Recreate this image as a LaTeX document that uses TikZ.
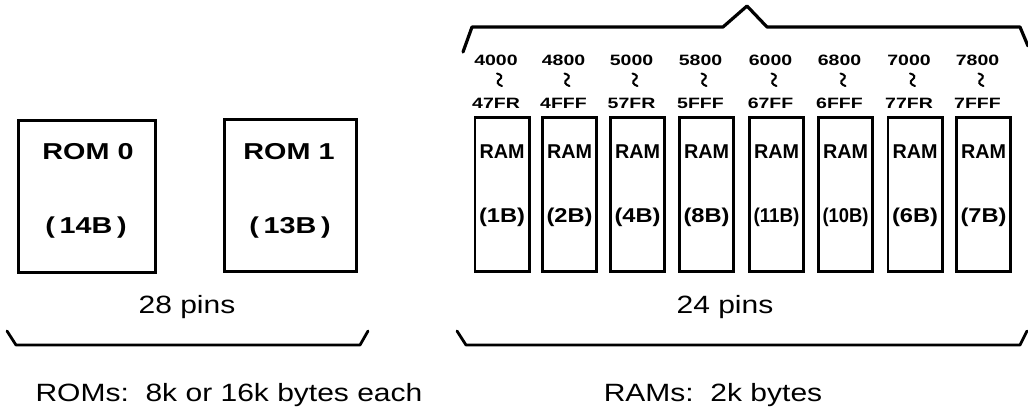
\documentclass[tikz,border=0pt]{standalone}
\usepackage{fontspec}
\setmainfont{Liberation Sans}
\newfontfamily\chipfont{Liberation Sans Bold}
% horizontal stretch of a piece of text
\newcommand{\hx}[2]{\scalebox{#1}[1]{#2}}
\begin{document}
\begin{tikzpicture}[x=1pt,y=-1pt,
  box/.style={draw, line width=2.8pt, inner sep=0pt},
  rombox/.style={box, minimum width=132.5pt, minimum height=152pt},
  rambox/.style={box, minimum width=54.2pt, minimum height=154.2pt},
  romtext/.style={inner sep=0pt, font=\fontsize{23}{23}\chipfont},
  ramtext/.style={inner sep=0pt, font=\fontsize{20}{20}\chipfont},
  addr/.style={inner sep=0pt, font=\fontsize{15}{15}\chipfont},
  squiggle/.style={line width=2pt, line cap=round},
  caption/.style={inner sep=0pt, anchor=base, font=\fontsize{25}{25}\selectfont},
  brace/.style={line width=2.8pt, line join=round, line cap=round}
]
\useasboundingbox (0,0) rectangle (1028,410);

% the two ROM sockets
\node[rombox, minimum width=137pt] (rom0) at (87,196.5) {};
\node[rombox] (rom1) at (290.5,195.5) {};
\node[romtext] (rom0name) at (88,152) {\hx{1.25}{ROM 0}};
\node[romtext] (rom0id) at (86,228) {\hx{1.25}{(\,14B\,)}};
\node[romtext] (rom1name) at (289,152) {\hx{1.25}{ROM 1}};
\node[romtext] (rom1id) at (290,228) {\hx{1.25}{(\,13B\,)}};

% the eight RAM sockets with their address ranges
\foreach \cx/\ta/\tb/\tc [count=\i] in {
    502/4000/47FR/1B, 569.5/4800/4FFF/2B, 637.5/5000/57FR/4B,
    706.5/5800/5FFF/8B, 776.5/6000/67FF/11B, 845.5/6800/6FFF/10B,
    915/7000/77FR/6B, 983.5/7800/7FFF/7B} {
  \node[rambox] (ram\i) at (\cx,194.5) {};
  \node[ramtext] (ramname\i) at (\cx,152) {\resizebox{45pt}{\height}{RAM}};
  \node[ramtext] (ramid\i) at (\cx,217) {\resizebox{46pt}{\height}{(\tc)}};
  \node[addr] (from\i) at ({\cx-6},60) {\hx{1.3}{\ta}};
  \node[addr] (upto\i) at ({\cx-6},103) {\hx{1.3}{\tb}};
  % the "through" mark between the two addresses
  \draw[squiggle] ({\cx-5},73.5) .. controls ({\cx},74.5) and ({\cx+0.5},77.5) .. ({\cx-2.5},79.5)
    .. controls ({\cx-5.5},81.5) and ({\cx-5},84.5) .. ({\cx},86);
}

% bracket over the RAM address map
\draw[brace, line width=3.2pt] (463,52) -- (472,27) -- (723,27) -- (747,6)
  -- (767,27) -- (1020,27) -- (1028,46);

% pin counts and brackets under each group
\node[caption] (rompins) at (187,313) {\hx{1.2}{28 pins}};
\node[caption] (rampins) at (725,313) {\hx{1.2}{24 pins}};
\draw[brace] (7,331) -- (16,345) -- (360,345) -- (368,331);
\draw[brace] (457,331) -- (466,345) -- (1020,345) -- (1027,331);

% sizes
\node[caption] (romsize) at (229,401) {\hx{1.2}{ROMs:\ \ 8k or 16k bytes each}};
\node[caption] (ramsize) at (713,401) {\hx{1.2}{RAMs:\ \ 2k bytes}};
\end{tikzpicture}
\end{document}
